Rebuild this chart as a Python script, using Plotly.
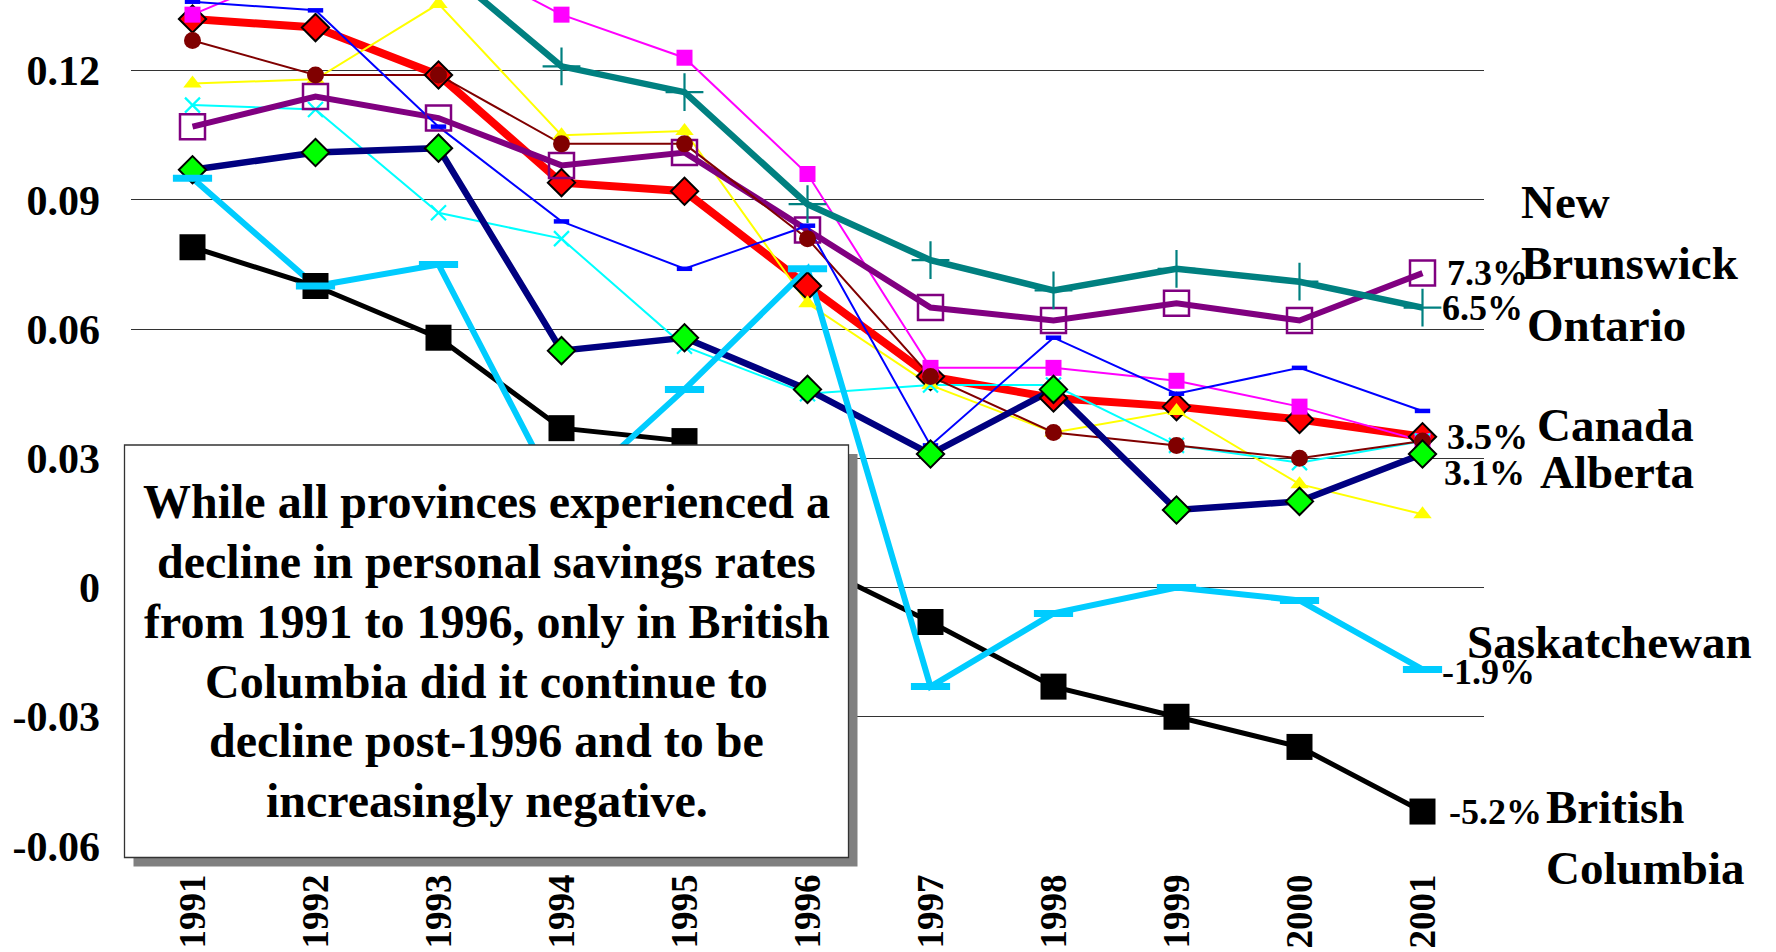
"""Personal savings rates by province, 1991-2001."""
import plotly.graph_objects as go

# ---- data -------------------------------------------------------------
years = ["1991", "1992", "1993", "1994", "1995", "1996",
         "1997", "1998", "1999", "2000", "2001"]

canada = [0.132, 0.130, 0.119, 0.094, 0.092, 0.070, 0.049, 0.044, 0.042, 0.039, 0.035]
newfoundland = [0.133, 0.145, 0.148, 0.133, 0.123, 0.096, 0.051, 0.051, 0.048, 0.042, 0.034]
pei = [0.117, 0.118, 0.1355, 0.105, 0.106, 0.066, 0.047, 0.036, 0.041, 0.024, 0.017]
nova_scotia = [0.112, 0.111, 0.087, 0.081, 0.056, 0.045, 0.047, 0.047, 0.033, 0.029, 0.034]
new_brunswick = [0.107, 0.114, 0.109, 0.098, 0.101, 0.083, 0.065, 0.062, 0.066, 0.062, 0.073]
quebec = [0.127, 0.119, 0.119, 0.103, 0.103, 0.081, 0.049, 0.036, 0.033, 0.030, 0.034]
ontario = [0.150, 0.152, 0.145, 0.121, 0.115, 0.089, 0.076, 0.069, 0.074, 0.071, 0.065]
manitoba = [0.136, 0.134, 0.107, 0.085, 0.074, 0.084, 0.033, 0.058, 0.045, 0.051, 0.041]
alberta = [0.097, 0.101, 0.102, 0.055, 0.058, 0.046, 0.031, 0.046, 0.018, 0.020, 0.031]
british_columbia = [0.079, 0.070, 0.058, 0.037, 0.034, 0.006, -0.008, -0.023, -0.030, -0.037, -0.052]
saskatchewan = [0.095, 0.070, 0.075, 0.020, 0.046, 0.074, -0.023, -0.006, 0.000, -0.003, -0.019]

y_tick_vals = [0.12, 0.09, 0.06, 0.03, 0, -0.03, -0.06]
y_tick_text = ["0.12", "0.09", "0.06", "0.03", "0", "-0.03", "-0.06"]

note_lines = [
    "While all provinces experienced a",
    "decline in personal savings rates",
    "from 1991 to 1996, only in British",
    "Columbia did it continue to",
    "decline post-1996 and to be",
    "increasingly negative.",
]

# ---- styles (draw order follows the spreadsheet series order) ---------
FONT = "Liberation Serif, Times New Roman, serif"
series = [
    dict(name="Canada", y=canada, color="#FF0000", width=8,
         marker=dict(symbol="diamond", size=21, color="#FF0000", line=dict(color="black", width=2))),
    dict(name="Newfoundland", y=newfoundland, color="#FF00FF", width=2,
         marker=dict(symbol="square", size=16, color="#FF00FF")),
    dict(name="Prince Edward Island", y=pei, color="#FFFF00", width=2,
         marker=dict(symbol="triangle-up", size=16, color="#FFFF00")),
    dict(name="Nova Scotia", y=nova_scotia, color="#00FFFF", width=2,
         marker=dict(symbol="x-thin", size=15, color="#00FFFF", line=dict(color="#00FFFF", width=2.2))),
    dict(name="New Brunswick", y=new_brunswick, color="#800080", width=6,
         marker=dict(symbol="square-open", size=25, color="#800080", line=dict(color="#800080", width=2.5))),
    dict(name="Quebec", y=quebec, color="#800000", width=2,
         marker=dict(symbol="circle", size=17, color="#800000")),
    dict(name="Ontario", y=ontario, color="#008080", width=6.5,
         marker=dict(symbol="cross-thin", size=27, color="#008080", line=dict(color="#008080", width=2.2))),
    dict(name="Manitoba", y=manitoba, color="#0000FF", width=2,
         marker=dict(symbol="line-ew", size=11, color="#0000FF", line=dict(color="#0000FF", width=4.5))),
    dict(name="Alberta", y=alberta, color="#000080", width=6.5,
         marker=dict(symbol="diamond", size=21, color="#00FF00", line=dict(color="black", width=2))),
    dict(name="British Columbia", y=british_columbia, color="#000000", width=5,
         marker=dict(symbol="square", size=26, color="#000000")),
    dict(name="Saskatchewan", y=saskatchewan, color="#00CCFF", width=6,
         marker=dict(symbol="line-ew", size=28, color="#00CCFF", line=dict(color="#00CCFF", width=7))),
]

# ---- geometry -----------------------------------------------------------
W, H = 1776, 952
M = dict(l=131, r=292, t=0, b=106)
PW, PH = W - M["l"] - M["r"], H - M["t"] - M["b"]
Y_RANGE = [-0.06, 0.1364]


def paper_x(px):
    return (px - M["l"]) / PW


def paper_y(py):
    return 1 - (py - M["t"]) / PH


fig = go.Figure()

# Lines first, then markers on top (as in the original spreadsheet chart)
for s in series:
    fig.add_trace(go.Scatter(x=years, y=s["y"], mode="lines", name=s["name"],
                             line=dict(color=s["color"], width=s["width"]),
                             showlegend=False, hoverinfo="skip"))
for s in series:
    fig.add_trace(go.Scatter(x=years, y=s["y"], mode="markers", name=s["name"],
                             marker=s["marker"], showlegend=False,
                             hovertemplate=s["name"] + " %{x}: %{y:.3f}<extra></extra>"))

last = len(years) - 1  # category index of 2001

# Value labels at 2001
end_labels = [
    (new_brunswick, 22, 0),
    (ontario, 17, 0),
    (canada, 22, 0),
    (alberta, 19, -19),
    (saskatchewan, 17, -3),
    (british_columbia, 24, 0),
]
for vals, dx, dy in end_labels:
    v = vals[-1]
    fig.add_annotation(x=last, y=v, text=f"{v * 100:.1f}%", showarrow=False,
                       xanchor="left", yanchor="middle", xshift=dx, yshift=dy,
                       font=dict(family=FONT, size=36, weight="bold", color="black"))

# Province names
names = [
    ("New<br>Brunswick", 0.0824, 96),
    ("Ontario", 0.0609, 102),
    ("Canada", 0.0378, 112),
    ("Alberta", 0.0269, 115),
    ("Saskatchewan", -0.0126, 42),
    ("British<br>Columbia", -0.0581, 121),
]
for text, yv, dx in names:
    fig.add_annotation(x=last, y=yv, text=text, showarrow=False, align="left",
                       xanchor="left", yanchor="middle", xshift=dx,
                       font=dict(family=FONT, size=47, weight="bold", color="black"))

# Text box with drop shadow
bx0, by0, bx1, by1 = 124.5, 445, 848.5, 857.5
shadow = 9
fig.add_shape(type="rect", xref="paper", yref="paper", layer="above",
              x0=paper_x(bx0 + shadow), x1=paper_x(bx1 + shadow),
              y0=paper_y(by1 + shadow), y1=paper_y(by0 + shadow),
              fillcolor="#808080", line=dict(width=0))
fig.add_shape(type="rect", xref="paper", yref="paper", layer="above",
              x0=paper_x(bx0), x1=paper_x(bx1), y0=paper_y(by1), y1=paper_y(by0),
              fillcolor="white", line=dict(color="#333333", width=1.3))
line_pitch = 59.8
first_line = (by0 + by1) / 2 - line_pitch * (len(note_lines) - 1) / 2
for i, txt in enumerate(note_lines):
    fig.add_annotation(xref="paper", yref="paper", x=paper_x((bx0 + bx1) / 2),
                       y=paper_y(first_line + i * line_pitch), text=txt, showarrow=False,
                       xanchor="center", yanchor="middle",
                       font=dict(family=FONT, size=48, weight="bold", color="black"))

zero_pos = (0 - Y_RANGE[0]) / (Y_RANGE[1] - Y_RANGE[0])

fig.update_layout(
    width=W, height=H,
    margin=M,
    paper_bgcolor="white",
    plot_bgcolor="white",
    showlegend=False,
    xaxis=dict(
        type="category",
        range=[-0.5, len(years) - 0.5],
        tickangle=-90,
        tickfont=dict(family=FONT, size=37, weight="bold", color="black"),
        ticks="",
        ticklabelstandoff=20,
        showgrid=False,
        showline=False,
        zeroline=False,
        automargin=False,
    ),
    xaxis2=dict(
        overlaying="x",
        anchor="free",
        position=zero_pos,
        range=[-0.5, len(years) - 0.5],
        tickmode="array",
        tickvals=[i - 0.5 for i in range(len(years) + 1)],
        ticks="outside",
        ticklen=12,
        tickwidth=1.3,
        tickcolor="#333333",
        showticklabels=False,
        showline=True,
        linecolor="#333333",
        linewidth=1.3,
        showgrid=False,
        zeroline=False,
        layer="below traces",
        automargin=False,
    ),
    yaxis=dict(
        range=Y_RANGE,
        tickmode="array",
        tickvals=y_tick_vals,
        ticktext=y_tick_text,
        tickfont=dict(family=FONT, size=42, weight="bold", color="black"),
        ticks="",
        ticklabelstandoff=30,
        showgrid=True,
        gridcolor="#333333",
        gridwidth=1.3,
        zeroline=False,
        showline=False,
        automargin=False,
    ),
)

# drop the browser's default page margin so the figure sits at the top-left corner
fig.write_html("out.html", config={"displayModeBar": False},
               post_script="document.body.style.margin = '0';")
